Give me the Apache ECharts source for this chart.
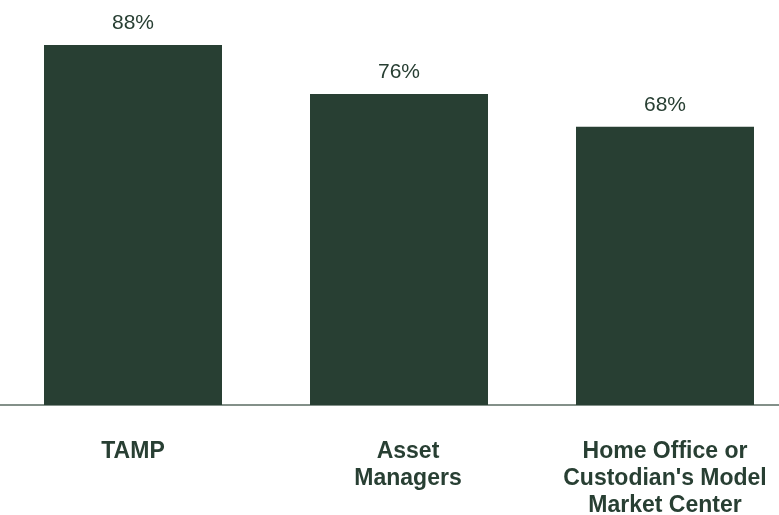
<!DOCTYPE html>
<html>
<head>
<meta charset="utf-8">
<script src="https://cdn.jsdelivr.net/npm/echarts@6/dist/echarts.min.js"></script>
<style>
  html, body { margin: 0; padding: 0; background: #ffffff; }
  #chart { width: 779px; height: 515px; }
</style>
</head>
<body>
<div id="chart"></div>
<script>
// Share of respondents by model portfolio source
const categories = ['TAMP', 'Asset\nManagers', "Home Office or\nCustodian's Model\nMarket Center"];
const shares = [88, 76, 68];

const GREEN = '#283f33';

// The two-line "Asset Managers" label sits a little right of its bar
const axisData = categories.map((name, i) => (
  i === 1 ? { value: name, textStyle: { padding: [0, 0, 0, 18] } } : name
));

const chart = echarts.init(document.getElementById('chart'), null, { renderer: 'canvas' });
chart.setOption({
  animation: false,
  backgroundColor: '#ffffff',
  grid: { left: 0, right: -19, top: 36.8, bottom: 110, containLabel: false, outerBoundsMode: 'none' },
  xAxis: {
    type: 'category',
    data: axisData,
    axisLine: { show: true, lineStyle: { color: '#5a6b62', width: 1.5 } },
    axisTick: { show: false },
    axisLabel: {
      margin: 33,
      color: GREEN,
      fontFamily: 'Liberation Sans, Arial, sans-serif',
      fontWeight: 'bold',
      fontSize: 23,
      lineHeight: 27,
      interval: 0
    }
  },
  yAxis: {
    type: 'value',
    min: 0,
    max: 90,
    show: false,
    splitLine: { show: false }
  },
  series: [{
    type: 'bar',
    data: shares,
    barWidth: 178,
    itemStyle: { color: GREEN },
    label: {
      show: true,
      position: 'top',
      distance: 11,
      formatter: '{c}%',
      color: GREEN,
      fontFamily: 'Liberation Sans, Arial, sans-serif',
      fontSize: 21
    }
  }]
});
</script>
</body>
</html>
